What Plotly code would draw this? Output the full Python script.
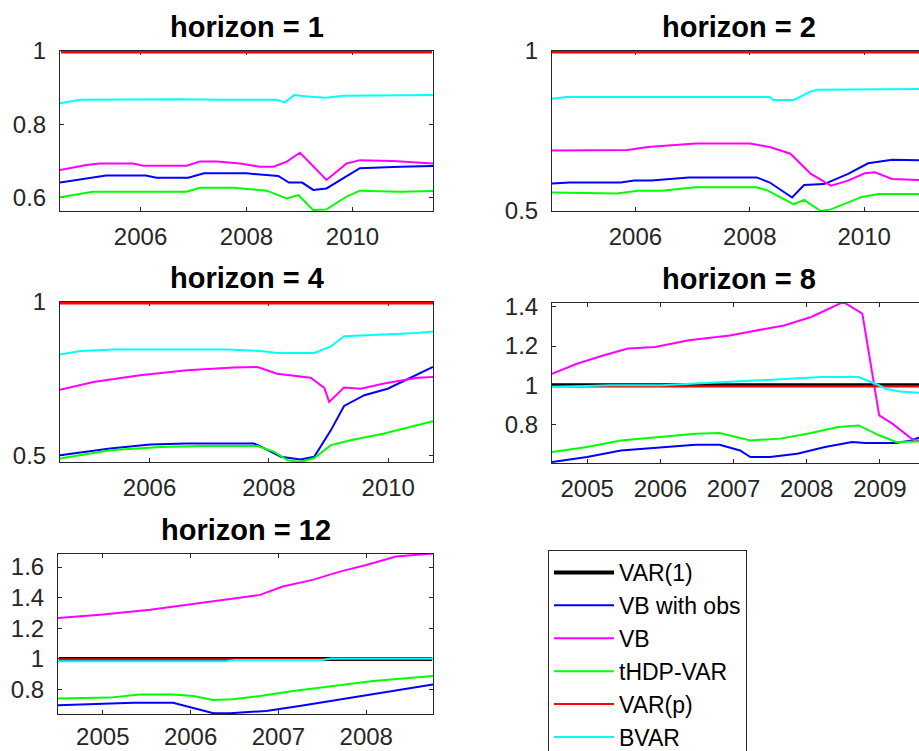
import plotly.graph_objects as go

# ---------------- data (decimal year, relative RMSE) ----------------
SERIES_NAMES = ["VAR(1)", "VB with obs", "VB", "tHDP-VAR", "VAR(p)", "BVAR"]
SERIES_COLORS = ["#000000", "#0000ff", "#ff00ff", "#00ff00", "#ff0000", "#00ffff"]
HORIZONS = [1, 2, 4, 8, 12]

# horizon = 1
H1_VAR1 = [(2004.5, 1.0), (2011.5, 1.0)]
H1_VBOBS = [(2004.48, 0.642), (2004.98, 0.654), (2005.35, 0.661), (2006.1, 0.661), (2006.3, 0.655),
            (2006.9, 0.655), (2007.2, 0.667), (2008.0, 0.667), (2008.4, 0.663), (2008.6, 0.660),
            (2008.8, 0.642), (2009.05, 0.642), (2009.26, 0.622), (2009.51, 0.626), (2009.83, 0.654),
            (2010.14, 0.681), (2010.9, 0.685), (2011.52, 0.687)]
H1_VB = [(2004.48, 0.676), (2004.98, 0.690), (2005.23, 0.694), (2005.86, 0.694), (2006.05, 0.688),
         (2006.87, 0.688), (2007.12, 0.699), (2007.44, 0.699), (2007.88, 0.694), (2008.25, 0.685),
         (2008.51, 0.685), (2008.76, 0.699), (2009.01, 0.723), (2009.51, 0.649), (2009.89, 0.694),
         (2010.14, 0.703), (2010.77, 0.701), (2011.52, 0.694)]
H1_THDP = [(2004.48, 0.602), (2005.1, 0.617), (2006.87, 0.617), (2007.12, 0.628), (2007.75, 0.628),
           (2008.38, 0.620), (2008.76, 0.599), (2008.98, 0.608), (2009.26, 0.567), (2009.51, 0.569),
           (2009.89, 0.604), (2010.14, 0.620), (2010.9, 0.617), (2011.52, 0.619)]
H1_VARP = [(2004.5, 1.0), (2011.5, 1.0)]
H1_BVAR = [(2004.48, 0.858), (2004.86, 0.867), (2006.7, 0.869), (2007.5, 0.867), (2008.57, 0.867),
           (2008.72, 0.860), (2008.9, 0.880), (2009.15, 0.876), (2009.5, 0.873), (2009.83, 0.878),
           (2011.52, 0.880)]

# horizon = 2
H2_VAR1 = [(2004.5, 1.0), (2011.25, 1.0)]
H2_VBOBS = [(2004.54, 0.586), (2004.85, 0.589), (2005.74, 0.589), (2005.98, 0.595), (2006.28, 0.595),
            (2006.93, 0.605), (2008.12, 0.605), (2008.35, 0.589), (2008.74, 0.542), (2008.95, 0.581),
            (2009.3, 0.584), (2009.72, 0.616), (2010.07, 0.649), (2010.49, 0.660), (2011.25, 0.658)]
H2_VB = [(2004.54, 0.689), (2005.86, 0.691), (2006.22, 0.700), (2007.05, 0.711), (2008.0, 0.711),
         (2008.35, 0.700), (2008.71, 0.679), (2008.83, 0.658), (2009.07, 0.616), (2009.42, 0.579),
         (2009.72, 0.595), (2010.01, 0.618), (2010.19, 0.621), (2010.49, 0.600), (2011.25, 0.595)]
H2_THDP = [(2004.54, 0.558), (2005.27, 0.555), (2005.68, 0.555), (2006.04, 0.563), (2006.46, 0.563),
           (2007.05, 0.574), (2008.12, 0.574), (2008.3, 0.565), (2008.77, 0.521), (2008.95, 0.535),
           (2009.24, 0.500), (2009.42, 0.505), (2009.96, 0.544), (2010.25, 0.553), (2011.25, 0.553)]
H2_VARP = [(2004.5, 1.0), (2011.25, 1.0)]
H2_BVAR = [(2004.54, 0.851), (2004.79, 0.856), (2008.35, 0.856), (2008.41, 0.847), (2008.77, 0.847),
           (2009.07, 0.874), (2009.18, 0.879), (2010.61, 0.879), (2011.25, 0.882)]

# horizon = 4
H4_VAR1 = [(2004.5, 1.0), (2010.75, 1.0)]
H4_VBOBS = [(2004.5, 0.500), (2005.34, 0.522), (2006.01, 0.535), (2006.63, 0.538), (2007.75, 0.538),
            (2007.86, 0.529), (2008.2, 0.495), (2008.53, 0.486), (2008.76, 0.495), (2009.04, 0.582),
            (2009.26, 0.661), (2009.6, 0.696), (2009.99, 0.717), (2010.75, 0.788)]
H4_VB = [(2004.5, 0.714), (2005.06, 0.739), (2005.84, 0.761), (2006.63, 0.777), (2007.41, 0.786),
         (2007.81, 0.788), (2008.14, 0.766), (2008.7, 0.753), (2008.93, 0.720), (2009.01, 0.674),
         (2009.26, 0.721), (2009.54, 0.717), (2009.93, 0.734), (2010.49, 0.753), (2010.75, 0.755)]
H4_THDP = [(2004.5, 0.489), (2005.34, 0.516), (2006.18, 0.527), (2006.85, 0.530), (2007.81, 0.530),
           (2008.09, 0.511), (2008.31, 0.484), (2008.53, 0.478), (2008.76, 0.491), (2009.04, 0.533),
           (2009.37, 0.549), (2009.93, 0.571), (2010.75, 0.611)]
H4_VARP = [(2004.5, 1.0), (2010.75, 1.0)]
H4_BVAR = [(2004.5, 0.829), (2004.84, 0.840), (2005.4, 0.845), (2007.3, 0.845), (2007.86, 0.840),
           (2008.14, 0.834), (2008.76, 0.834), (2009.04, 0.855), (2009.26, 0.888), (2009.65, 0.891),
           (2010.49, 0.899), (2010.75, 0.904)]

# horizon = 8
H8_VAR1 = [(2004.5, 1.0), (2009.75, 1.0)]
H8_VBOBS = [(2004.52, 0.610), (2005.0, 0.635), (2005.46, 0.669), (2006.02, 0.686), (2006.48, 0.698),
            (2006.81, 0.698), (2007.09, 0.669), (2007.23, 0.635), (2007.5, 0.635), (2007.87, 0.652),
            (2008.25, 0.686), (2008.62, 0.712), (2008.8, 0.707), (2009.22, 0.707), (2009.43, 0.720),
            (2009.62, 0.746), (2009.75, 0.760)]
H8_VB = [(2004.52, 1.059), (2004.86, 1.110), (2005.23, 1.153), (2005.56, 1.187), (2005.93, 1.195),
         (2006.39, 1.229), (2006.95, 1.254), (2007.32, 1.280), (2007.69, 1.305), (2008.06, 1.348),
         (2008.34, 1.399), (2008.5, 1.424), (2008.76, 1.365), (2008.99, 0.847), (2009.17, 0.805),
         (2009.43, 0.729), (2009.62, 0.707), (2009.75, 0.700)]
H8_THDP = [(2004.52, 0.661), (2005.0, 0.686), (2005.46, 0.720), (2006.02, 0.737), (2006.48, 0.754),
           (2006.81, 0.757), (2007.23, 0.720), (2007.64, 0.729), (2008.01, 0.754), (2008.43, 0.788),
           (2008.71, 0.796), (2008.99, 0.746), (2009.22, 0.712), (2009.75, 0.715)]
H8_VARP = [(2004.5, 0.996), (2006.0, 0.996), (2007.3, 0.995), (2009.75, 0.995)]
H8_BVAR = [(2004.52, 0.992), (2005.32, 1.000), (2006.02, 1.000), (2006.9, 1.017), (2007.41, 1.025),
           (2008.2, 1.042), (2008.71, 1.042), (2008.94, 1.008), (2009.08, 0.983), (2009.27, 0.969),
           (2009.62, 0.961), (2009.75, 0.958)]

# horizon = 12
H12_VAR1 = [(2004.5, 1.0), (2008.75, 1.0)]
H12_VBOBS = [(2004.49, 0.697), (2005.35, 0.714), (2005.8, 0.714), (2006.03, 0.682), (2006.26, 0.645),
             (2006.45, 0.645), (2006.86, 0.660), (2007.24, 0.693), (2007.7, 0.736), (2008.08, 0.768),
             (2008.76, 0.833)]
H12_VB = [(2004.49, 1.267), (2004.97, 1.289), (2005.54, 1.321), (2005.95, 1.353), (2006.41, 1.386),
          (2006.79, 1.418), (2007.05, 1.473), (2007.39, 1.516), (2007.7, 1.570), (2008.0, 1.613),
          (2008.34, 1.668), (2008.76, 1.689)]
H12_THDP = [(2004.49, 0.742), (2005.08, 0.747), (2005.42, 0.768), (2005.8, 0.768), (2006.03, 0.758),
            (2006.26, 0.732), (2006.48, 0.736), (2006.79, 0.758), (2007.17, 0.790), (2007.62, 0.823),
            (2008.08, 0.855), (2008.76, 0.888)]
H12_VARP = [(2004.5, 0.998), (2008.75, 0.998)]
H12_BVAR = [(2004.49, 0.985), (2006.4, 0.985), (2006.5, 0.993), (2007.5, 0.993), (2007.6, 1.003),
            (2008.76, 1.003)]

# axis ranges and ticks
X_RANGES = {1: [2004.48, 2011.52], 2: [2004.54, 2011.07], 4: [2004.5, 2010.75],
            8: [2004.52, 2009.62], 12: [2004.49, 2008.76]}
Y_RANGES = {1: [0.5646, 1.0], 2: [0.5, 1.0], 4: [0.478, 1.0], 8: [0.605, 1.419], 12: [0.64, 1.685]}
X_TICKS = {1: [2006, 2008, 2010], 2: [2006, 2008, 2010], 4: [2006, 2008, 2010],
           8: [2005, 2006, 2007, 2008, 2009], 12: [2005, 2006, 2007, 2008]}
Y_TICKS = {1: [0.6, 0.8, 1.0], 2: [0.5, 1.0], 4: [0.5, 1.0], 8: [0.8, 1.0, 1.2, 1.4],
           12: [0.8, 1.0, 1.2, 1.4, 1.6]}
Y_TICKTEXT = {1: ["0.6", "0.8", "1"], 2: ["0.5", "1"], 4: ["0.5", "1"], 8: ["0.8", "1", "1.2", "1.4"],
              12: ["0.8", "1", "1.2", "1.4", "1.6"]}

DATA = {
    1: [H1_VAR1, H1_VBOBS, H1_VB, H1_THDP, H1_VARP, H1_BVAR],
    2: [H2_VAR1, H2_VBOBS, H2_VB, H2_THDP, H2_VARP, H2_BVAR],
    4: [H4_VAR1, H4_VBOBS, H4_VB, H4_THDP, H4_VARP, H4_BVAR],
    8: [H8_VAR1, H8_VBOBS, H8_VB, H8_THDP, H8_VARP, H8_BVAR],
    12: [H12_VAR1, H12_VBOBS, H12_VB, H12_THDP, H12_VARP, H12_BVAR],
}

# ---------------- layout geometry (pixels in a 919x751 canvas) ----------------
W, H = 919, 751
BOXES = {  # left, right, top, bottom (px); right panels are cut by the window edge
    1: (60, 433, 51, 211),
    2: (552, 925.3, 51, 211),
    4: (60, 433, 302, 462),
    8: (552, 925.3, 303, 463),
    12: (58, 433, 554, 714),
}
# panels where VAR(p) coincides with VAR(1) on the top edge of the box
TOP_EDGE_PANELS = {1, 2, 4}
LINE_WIDTHS = [4, 2, 2, 2, 2, 2]
X_LABEL_STANDOFF = {1: 4, 2: 4, 4: 4, 8: 4, 12: 1}
FONT = "Liberation Sans, Arial, Helvetica, sans-serif"
AX_COLOR = "#262626"

fig = go.Figure()
annotations = []
for idx, h in enumerate(HORIZONS):
    n = "" if idx == 0 else str(idx + 1)
    xa, ya = "x" + n, "y" + n
    for s, pts in enumerate(DATA[h]):
        w = LINE_WIDTHS[s]
        if h in TOP_EDGE_PANELS and s == 0:
            w = 2
        if h in TOP_EDGE_PANELS and s == 4:
            w = 5
        fig.add_trace(go.Scatter(
            x=[p[0] for p in pts], y=[p[1] for p in pts],
            mode="lines", name=SERIES_NAMES[s],
            line=dict(color=SERIES_COLORS[s], width=w),
            xaxis=xa, yaxis=ya, showlegend=(h == 12), legendgroup=SERIES_NAMES[s],
            hoverinfo="skip"))
    l, r, t, b = BOXES[h]
    right_clipped = r > W
    x0, x1 = l / W, min(r, W) / W
    xr = list(X_RANGES[h])
    if right_clipped:
        # window edge cuts the axes: show the visible part of the data range
        xr[1] = xr[0] + (xr[1] - xr[0]) * (W - l) / (r - l)
    axis_common = dict(showline=True, linecolor=AX_COLOR, linewidth=1, ticks="inside", ticklen=4,
                       tickcolor=AX_COLOR, showgrid=False, zeroline=False, layer="below traces",
                       automargin=False,
                       tickfont=dict(family=FONT, size=24, color=AX_COLOR))
    fig.update_layout(**{
        "xaxis" + n: dict(domain=[x0, x1], range=xr, anchor=ya, tickvals=X_TICKS[h],
                          ticktext=[str(v) for v in X_TICKS[h]], mirror="ticks",
                          ticklabelstandoff=X_LABEL_STANDOFF[h], **axis_common),
        "yaxis" + n: dict(domain=[1 - b / H, 1 - t / H], range=Y_RANGES[h], anchor=xa,
                          tickvals=Y_TICKS[h], ticktext=Y_TICKTEXT[h],
                          mirror=False if right_clipped else "ticks",
                          ticklabelstandoff=8, **axis_common),
    })
    annotations.append(dict(text="<b>horizon = %d</b>" % h, xref="paper", yref="paper",
                            x=((l + r) / 2) / W, y=1 - (t - 24) / H, xanchor="center",
                            yanchor="middle", showarrow=False,
                            font=dict(family=FONT, size=29, color="#000000")))

fig.update_layout(
    width=W, height=H, margin=dict(l=0, r=0, t=0, b=0, autoexpand=False),
    paper_bgcolor="white", plot_bgcolor="white",
    annotations=annotations,
    legend=dict(x=548 / W, y=1 - 550 / H, xanchor="left", yanchor="top",
                bgcolor="white", bordercolor=AX_COLOR, borderwidth=1,
                font=dict(family=FONT, size=23, color="#000000"), tracegroupgap=0,
                itemwidth=60, maxheight=1000),
    showlegend=True,
)

fig.write_html("out.html")
